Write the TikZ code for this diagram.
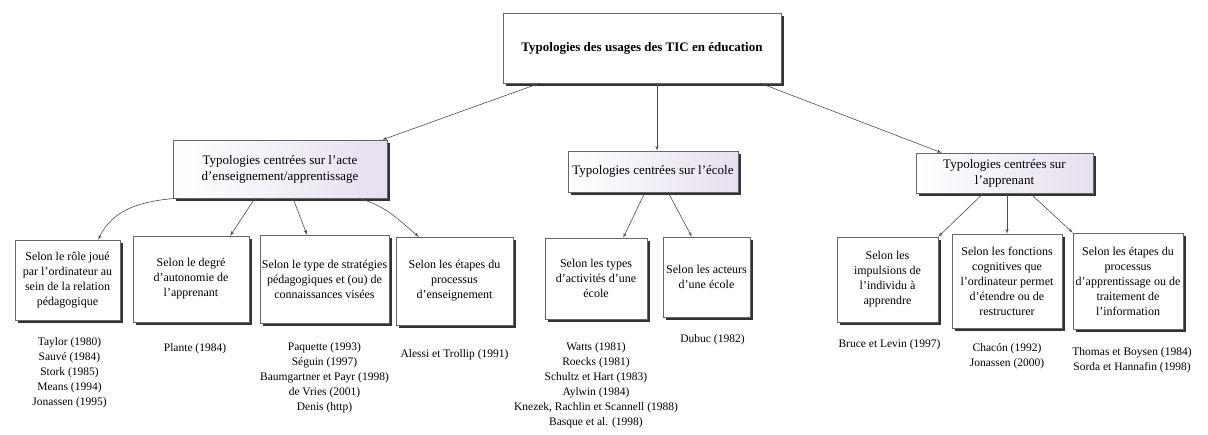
\documentclass[tikz,border=0pt]{standalone}
\usepackage{fontspec}
\setmainfont{Liberation Serif}
\usepackage{tikz}
\usetikzlibrary{positioning, arrows, shadows}
\tikzstyle{line} = [draw, -latex', black!70, line width=0.6pt]
\definecolor{lightlilac}{HTML}{E6DFEF}
\tikzstyle{shadowed} = [drop shadow={shadow xshift=3pt, shadow yshift=-3pt, fill=black!80, opacity=1}]
\tikzstyle{mainbox} = [rectangle, draw=black!60, fill=white, shadowed,
    minimum width=278pt, minimum height=70pt, font=\fontsize{13}{16}\selectfont\bfseries]
\tikzstyle{catbox} = [rectangle, draw=black!60, left color=white, right color=lightlilac, shadowed,
    align=center, inner sep=2pt, font=\fontsize{13}{16}\selectfont]
\tikzstyle{block} = [rectangle, draw=black!60, fill=white, shadowed,
    align=center, inner sep=1pt, font=\fontsize{12}{15}\selectfont]
\tikzstyle{refs} = [align=center, font=\fontsize{11.5}{15}\selectfont]

\begin{document}
\begin{tikzpicture}[x=1pt, y=1pt]
      \useasboundingbox (0,0) rectangle (1208,-434);
      % Place nodes
      \node [mainbox] (usages) at (642,-48) {Typologies des usages des TIC en éducation};

      \node [catbox, minimum width=214pt, minimum height=58pt] (acte) at (280,-169) {Typologies centrées sur l'acte\\d'enseignement/apprentissage};
      \node [catbox, minimum width=170pt, minimum height=41pt] (ecole) at (653,-171.5) {Typologies centrées sur l'école};
      \node [catbox, minimum width=177pt, minimum height=40pt] (apprenant) at (1004.5,-173) {Typologies centrées sur\\l'apprenant};
      \path [line] ([xshift=37pt]usages.south west) -- ([xshift=-5pt]acte.north east);
      \path [line] ([xshift=15pt]usages.south) -- ([xshift=4pt]ecole.north);
      \path [line] ([xshift=-21pt]usages.south east) -- ([xshift=26pt]apprenant.north west);

      % acte d'enseignement/apprentissage
      \node [block, minimum width=105pt, minimum height=80pt] (role) at (67.5,-280) {Selon le rôle joué\\par l'ordinateur au\\sein de la relation\\pédagogique};
      \node [block, minimum width=116pt, minimum height=86pt] (degre) at (191,-279) {Selon le degré\\d'autonomie de\\l'apprenant};
      \node [block, minimum width=129pt, minimum height=88pt] (strategies) at (324.5,-279) {Selon le type de stratégies\\pédagogiques et (ou) de\\connaissances visées};
      \node [block, minimum width=117pt, minimum height=88pt] (etapes) at (454.5,-281) {Selon les étapes du\\processus\\d'enseignement};
      \path [line] ([xshift=4pt]acte.south west) to[out=185, in=65] ([xshift=-22pt]role.north east);
      \path [line] ([xshift=-25pt]acte.south) -- ([xshift=-19pt]degre.north east);
      \path [line] ([xshift=13pt]acte.south) -- ([xshift=-17.5pt]strategies.north);
      \path [line] ([xshift=-29pt]acte.south east) to[out=-15, in=140] ([xshift=23pt]etapes.north west);

      \node [refs, below of=role, node distance=93pt, xshift=2pt] (roleref) {Taylor (1980)\\Sauvé (1984)\\Stork (1985)\\Means (1994)\\Jonassen (1995)};
      \node [refs, below of=degre, node distance=70pt, xshift=4pt] (degreref) {Plante (1984)};
      \node [refs, below of=strategies, node distance=99pt] (strategiesref) {Paquette (1993)\\Séguin (1997)\\Baumgartner et Payr (1998)\\de Vries (2001)\\Denis (http)};
      \node [refs, below of=etapes, node distance=74pt] (etapesref) {Alessi et Trollip (1991)};

      % école
      \node [block, minimum width=102pt, minimum height=81pt] (activites) at (596,-278.5) {Selon les types\\d'activités d'une\\école};
      \node [block, minimum width=87pt, minimum height=80pt] (acteurs) at (706.5,-277) {Selon les acteurs\\d'une école};
      \path [line] ([xshift=-8pt]ecole.south) -- ([xshift=-24pt]activites.north east);
      \path [line] ([xshift=15pt]ecole.south) -- ([xshift=29pt]acteurs.north west);

      \node [refs, below of=activites, node distance=107pt] (activitesref) {Watts (1981)\\Roecks (1981)\\Schultz et Hart (1983)\\Aylwin (1984)\\Knezek, Rachlin et Scannell (1988)\\Basque et al. (1998)};
      \node [refs, below of=acteurs, node distance=63pt, xshift=6pt] (acteursref) {Dubuc (1982)};

      % apprenant
      \node [block, minimum width=101pt, minimum height=85pt] (impulsions) at (887.5,-279.5) {Selon les\\impulsions de\\l'individu à\\apprendre};
      \node [block, minimum width=110pt, minimum height=94pt] (fonctions) at (1007,-281) {Selon les fonctions\\cognitives que\\l'ordinateur permet\\d'étendre ou de\\restructurer};
      \node [block, minimum width=110pt, minimum height=96pt] (processus) at (1128,-281) {Selon les étapes du\\processus\\d'apprentissage ou de\\traitement de\\l'information};
      \path [line] ([xshift=-21pt]apprenant.south) -- (impulsions.north east);
      \path [line] ([xshift=2.5pt]apprenant.south) -- (fonctions.north);
      \path [line] ([xshift=25.5pt]apprenant.south) -- (processus.north west);

      \node [refs, below of=impulsions, node distance=65.5pt, xshift=2pt] (impulsionsref) {Bruce et Levin (1997)};
      \node [refs, below of=fonctions, node distance=75pt] (fonctionsref) {Chacón (1992)\\Jonassen (2000)};
      \node [refs, below of=processus, node distance=79pt, xshift=4pt] (processusref) {Thomas et Boysen (1984)\\Sorda et Hannafin (1998)};
    \end{tikzpicture}
\end{document}
